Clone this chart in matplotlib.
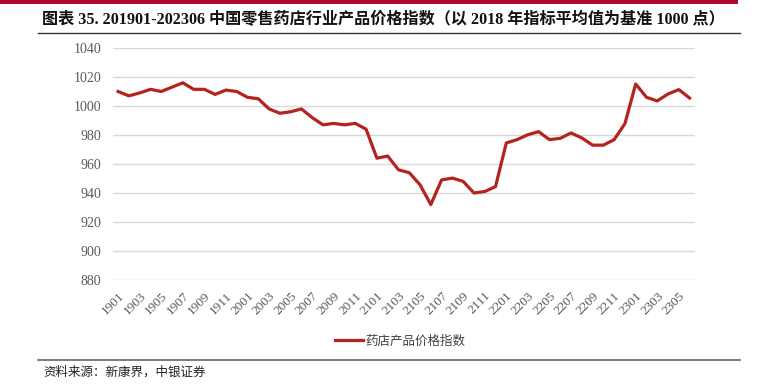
import matplotlib.pyplot as plt
from matplotlib.lines import Line2D

# monthly index, 2019-01 .. 2023-06
months = [f"{y}{m:02d}" for y in (19, 20, 21, 22) for m in range(1, 13)] + \
         [f"23{m:02d}" for m in range(1, 7)]
values = [
    1010, 1007, 1009, 1011.5, 1010, 1013, 1016, 1011.5, 1011.5, 1008, 1011, 1010,
    1006, 1005, 998, 995, 996, 998, 992, 987, 988, 987, 988, 984,
    964, 965.5, 956, 954, 945.7, 932, 949, 950.3, 948, 940, 941, 944.4,
    974.5, 976.8, 980.2, 982.3, 976.8, 977.7, 981.4, 978, 973, 973, 976.8, 987.8,
    1015.2, 1006, 1003.5, 1008.3, 1011.3, 1005.5,
]
y_ticks = list(range(880, 1041, 20))
series_name = "药店产品价格指数"
title = "图表 35. 201901-202306 中国零售药店行业产品价格指数（以 2018 年指标平均值为基准 1000 点）"
source = "资料来源：新康界，中银证券"

W, H = 757, 389
LINE_RED = "#B5231E"
GRAY = "#595959"
SERIF_CJK = ["Liberation Serif", "Noto Sans CJK SC"]

fig = plt.figure(figsize=(W / 100, H / 100), dpi=100)

# dark red bar at top
fig.add_artist(plt.Rectangle((0, 1 - 4 / H), 738 / W, 4 / H, transform=fig.transFigure,
                             color="#AE0A2C", lw=0))
fig.text(42 / W, 1 - 20 / H, title, fontsize=11.6, fontweight="bold", family=SERIF_CJK,
         va="center", ha="left", color="#111111")
fig.add_artist(Line2D([38 / W, 740 / W], [1 - 33 / H] * 2, transform=fig.transFigure,
                      color="#333333", lw=1.0))

ax = fig.add_axes([112.7 / W, (H - 280) / H, (695 - 112.7) / W, (280 - 48) / H])
x = list(range(len(values)))
ax.plot(x, values, color=LINE_RED, lw=2.3, solid_joinstyle="round", label=series_name)

ax.set_xlim(-0.5, len(values) - 0.5)
ax.set_ylim(880, 1040)
ax.set_yticks(y_ticks)
ax.set_yticklabels([str(v) for v in y_ticks], family="Liberation Serif", fontsize=10, color=GRAY)
ax.set_xticks(x[::2])
ax.set_xticklabels(months[::2], rotation=45, ha="right", rotation_mode="anchor",
                   family="Liberation Serif", fontsize=9.5, color=GRAY)
ax.tick_params(axis="both", length=0)
ax.tick_params(axis="x", pad=7)
ax.tick_params(axis="y", pad=8)
ax.grid(axis="y", color="#D9D9D9", lw=1)
ax.set_axisbelow(True)
for s in ax.spines.values():
    s.set_visible(False)

leg = fig.legend(loc="center", bbox_to_anchor=(400 / W, 1 - 341 / H), frameon=False,
                 handlelength=2.2, handletextpad=0.2,
                 prop={"family": "Noto Sans CJK SC", "size": 9})
for t in leg.get_texts():
    t.set_color("#404040")

fig.add_artist(Line2D([38 / W, 740 / W], [1 - 360 / H] * 2, transform=fig.transFigure,
                      color="#666666", lw=1.2))
fig.text(43 / W, 1 - 372 / H, source, fontsize=9, style="italic", family="Noto Sans CJK SC",
         va="center", ha="left", color="#222222")

fig.savefig("out.png", dpi=100)
